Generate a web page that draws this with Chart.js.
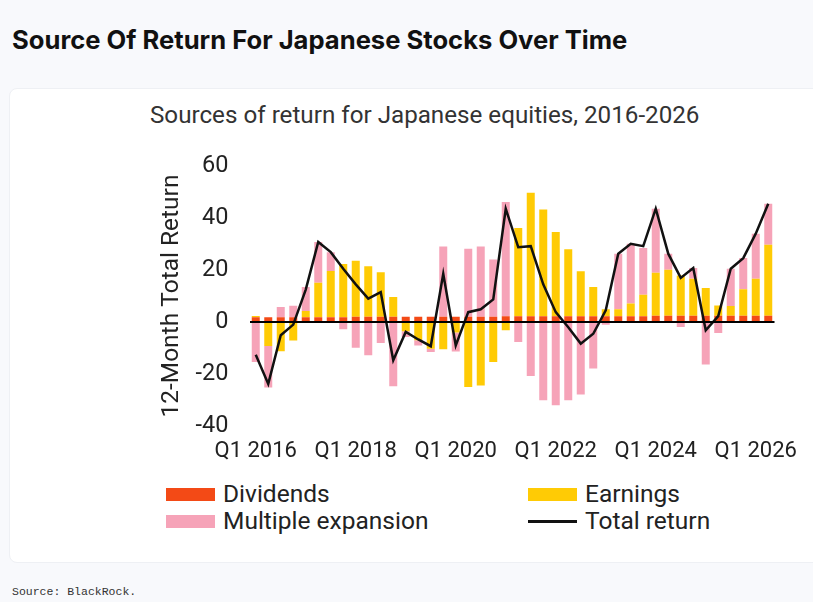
<!DOCTYPE html>
<html><head><meta charset="utf-8">
<script src="https://cdn.jsdelivr.net/npm/chart.js@4.4.1/dist/chart.umd.min.js"></script>
<style>
html,body{margin:0;padding:0;background:#f8f9fc;width:813px;height:602px;overflow:hidden;font-family:Roboto,sans-serif}
#title{position:absolute;left:12px;top:24px;font-family:Inter;font-weight:700;font-size:25.6px;line-height:32px;color:#111;white-space:nowrap}
#card{position:absolute;left:9px;top:88px;width:830px;height:475px;background:#fff;border:1px solid #eef0f4;border-radius:8px;box-sizing:border-box}
#sub{position:absolute;left:150px;top:100px;font-size:24.2px;line-height:30px;color:#333;white-space:nowrap}
#wrap{position:absolute;left:140px;top:131px;width:673px;height:339px}
#wrap canvas{display:block}
.leg{position:absolute;font-size:24.5px;line-height:28px;color:#222;white-space:nowrap}
.sw{position:absolute;width:49px;height:13px}
#src{position:absolute;left:12px;top:585px;font-family:"Liberation Mono",monospace;font-size:11.5px;line-height:14px;color:#333;white-space:nowrap}
</style></head>
<body>
<div id="title">Source Of Return For Japanese Stocks Over Time</div>
<div id="card"></div>
<div id="sub">Sources of return for Japanese equities, 2016-2026</div>
<div id="wrap"><canvas id="c" width="673" height="339"></canvas></div>
<div class="sw" style="left:166px;top:488px;background:#f34a16"></div>
<div class="leg" style="left:223px;top:480px">Dividends</div>
<div class="sw" style="left:166px;top:515px;background:#f6a3b8"></div>
<div class="leg" style="left:223px;top:507px">Multiple expansion</div>
<div class="sw" style="left:528px;top:488px;background:#ffcb05"></div>
<div class="leg" style="left:585px;top:480px">Earnings</div>
<div class="sw" style="left:528px;top:520px;height:2.5px;background:#111"></div>
<div class="leg" style="left:585px;top:507px">Total return</div>
<div id="src">Source: BlackRock.</div>
<script>
const quarters = [
 "Q1 2016","Q2 2016","Q3 2016","Q4 2016","Q1 2017","Q2 2017","Q3 2017","Q4 2017",
 "Q1 2018","Q2 2018","Q3 2018","Q4 2018","Q1 2019","Q2 2019","Q3 2019","Q4 2019",
 "Q1 2020","Q2 2020","Q3 2020","Q4 2020","Q1 2021","Q2 2021","Q3 2021","Q4 2021",
 "Q1 2022","Q2 2022","Q3 2022","Q4 2022","Q1 2023","Q2 2023","Q3 2023","Q4 2023",
 "Q1 2024","Q2 2024","Q3 2024","Q4 2024","Q1 2025","Q2 2025","Q3 2025","Q4 2025",
 "Q1 2026","Q2 2026"];
const tickLabels = ["Q1 2016","Q1 2018","Q1 2020","Q1 2022","Q1 2024","Q1 2026"];
const dividends = [1.8,1.8,1.8,1.8,1.8,1.8,1.8,1.8,
 2,2,2,2,2,2,2,2,2,2,2,2,
 2.2,2.2,2.2,2.2,2.2,2.2,2.2,2.2,2.2,2.2,2.2,2.2,
 2.4,2.4,2.4,2.4,2.4,2.4,2.4,2.4,2.4,2.4];
const earnings = [0.5,-9.2,-11.2,-7.1,2.4,13.3,17.8,20.5,
 21.6,19.5,17.2,7.6,-3.5,-7,-10.3,-10.5,
 -4,-25,-24.4,-15.4,-3.2,34.0,47.5,41.1,
 32.4,25.8,17.3,11.3,2.7,2.7,4.9,8.3,
 16.6,17.7,15.5,14.3,10.7,4.0,3.8,10.2,
 14.3,27.3];
const multiple = [-15.4,-16,4.0,4.5,9.3,15.7,7.3,-2.8,
 -9.9,-12.8,-8.1,-24.7,-2.3,-2,-1.2,27.1,
 -7.3,26.2,27.1,22.1,44.0,-7.7,-20.8,-30.1,
 -32,-30.1,-27.9,-17.9,-1,21.4,23,18,
 24.6,6.2,-1.9,4.1,-16.3,-4.2,14.3,12,
 17.3,15.8];
const totalReturn = [-12.6,-23.8,-5.1,-1,12.5,30.8,26.9,20.5,
 14.5,9.0,11.5,-14.7,-3.8,-6.7,-9.3,18.6,
 -9,3.8,4.9,8.7,43.6,28.8,29.2,14.5,
 3.8,-2,-8.3,-4.5,4.5,26.3,30.1,29.2,
 43.6,26.3,17,20.8,-3.2,2.3,20.5,24.6,
 34,45.5];
const yTicks = [-40,-20,0,20,40,60];

Chart.defaults.font.family = "Roboto";
Chart.defaults.color = "#222";

const barCommon = {type:'bar', stack:'bars', barPercentage:0.64, categoryPercentage:1, order:1, borderWidth:0};
new Chart(document.getElementById('c'), {
  data: {
    labels: quarters,
    datasets: [
      Object.assign({label:'Dividends', data:dividends, backgroundColor:'#f34a16'}, barCommon),
      Object.assign({label:'Earnings', data:earnings, backgroundColor:'#ffcb05'}, barCommon),
      Object.assign({label:'Multiple expansion', data:multiple, backgroundColor:'#f6a3b8'}, barCommon),
      {type:'line', label:'Total return', data:totalReturn, stack:'line', borderColor:'#111', borderWidth:2.5,
       pointRadius:0, tension:0, fill:false, order:0}
    ]
  },
  options: {
    responsive:false, animation:false, devicePixelRatio:1,
    layout:{padding:{top:16,right:38.5,left:0,bottom:0}},
    plugins:{legend:{display:false}, tooltip:{enabled:false}},
    scales:{
      x:{stacked:true, grid:{display:false, drawTicks:false}, border:{display:false},
         ticks:{autoSkip:false, maxRotation:0, minRotation:0, padding:12, font:{size:22},
           callback:function(v,i){const l=quarters[i];return tickLabels.includes(l)?l:'';}},
         afterFit:s=>{s.height=44;}},
      y:{stacked:true, min:-40, max:60,
         afterBuildTicks:s=>{s.ticks=yTicks.map(v=>({value:v}));},
         grid:{drawTicks:false, z:1,
           color:c=>c.tick && c.tick.value===0?'#000':'rgba(0,0,0,0)',
           lineWidth:c=>c.tick && c.tick.value===0?2:0},
         border:{display:false},
         ticks:{padding:21, font:{size:23.5}},
         title:{display:true, text:'12-Month Total Return', font:{size:24.5, lineHeight:1.2}, padding:{top:17.3,bottom:0}, color:'#222'},
         afterFit:s=>{s.width=109.5;}}
    }
  }
});
</script>
</body></html>
